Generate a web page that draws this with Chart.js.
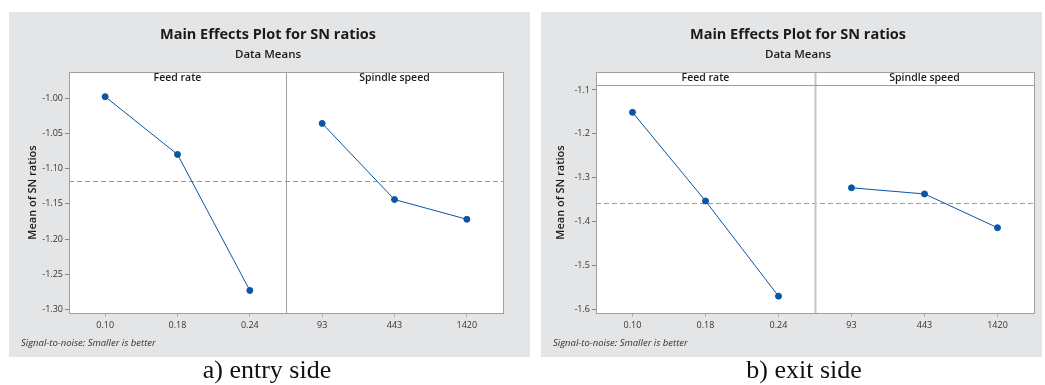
<!DOCTYPE html>
<html>
<head>
<meta charset="utf-8">
<script src="https://cdn.jsdelivr.net/npm/chart.js@4"></script>
<style>
  body { margin: 0; background: #fff; width: 1045px; height: 385px; position: relative; overflow: hidden; }
  .panel { position: absolute; top: 12px; background: #e4e5e7; }
  .caption { position: absolute; top: 355px; font-family: "Liberation Serif", serif; font-size: 26px; color: #111; text-align: center; }
</style>
</head>
<body>
<div class="panel" style="left:9px; width:521px; height:345px;"><canvas id="entryChart" width="521" height="345"></canvas></div>
<div class="panel" style="left:541px; width:501px; height:345px;"><canvas id="exitChart" width="501" height="345"></canvas></div>
<div class="caption" style="left:167px; width:200px;">a) entry side</div>
<div class="caption" style="left:704px; width:200px;">b) exit side</div>
<script>
// factor levels
const feed_levels = ['0.10', '0.18', '0.24'];
const spindle_levels = ['93', '443', '1420'];
const factor_names = ['Feed rate', 'Spindle speed'];

// mean SN ratios per level
const entry_feed = [-0.998, -1.080, -1.273];
const entry_spindle = [-1.036, -1.144, -1.172];
const exit_feed = [-1.151, -1.353, -1.570];
const exit_spindle = [-1.323, -1.337, -1.414];

// y tick labels
const entry_ticks = [-1.30, -1.25, -1.20, -1.15, -1.10, -1.05, -1.00];
const exit_ticks = [-1.6, -1.5, -1.4, -1.3, -1.2, -1.1];

const font_ui = '"Open Sans", "Noto Sans", sans-serif';
const line_blue = '#0a55a5';

// white plot area, frame, facet divider, grand mean, strip labels and notes
const panelDecor = {
    id: 'panelDecor',
    beforeDraw(chart, args, o) {
        const a = chart.chartArea;
        const ctx = chart.ctx;
        ctx.save();
        ctx.fillStyle = '#fff';
        ctx.fillRect(a.left, a.top, a.right - a.left, a.bottom - a.top);
        ctx.restore();
    },
    beforeDatasetsDraw(chart, args, o) {
        const a = chart.chartArea;
        const ctx = chart.ctx;
        const x = chart.scales.x;
        const y = chart.scales.y;
        const all = chart.data.datasets.flatMap(d => d.data.filter(v => v !== null));
        const mean = all.reduce((s, v) => s + v, 0) / all.length;
        const my = Math.round(y.getPixelForValue(mean)) + 0.5;
        ctx.save();
        ctx.strokeStyle = '#9a9a9a';
        ctx.lineWidth = 1;
        ctx.setLineDash([5, 3]);
        ctx.beginPath();
        ctx.moveTo(a.left, my);
        ctx.lineTo(a.right, my);
        ctx.stroke();
        ctx.setLineDash([]);
        // divider between the two factors
        const dx = Math.round((x.getPixelForValue(2) + x.getPixelForValue(3)) / 2) + 0.5;
        ctx.strokeStyle = o.dividerColor;
        ctx.lineWidth = o.dividerWidth;
        ctx.beginPath();
        ctx.moveTo(dx, a.top);
        ctx.lineTo(dx, a.bottom);
        ctx.stroke();
        // strip separator
        if (o.strip) {
            ctx.strokeStyle = '#a0a0a0';
            ctx.lineWidth = 1;
            ctx.beginPath();
            ctx.moveTo(a.left, a.top + 13.5);
            ctx.lineTo(a.right, a.top + 13.5);
            ctx.stroke();
        }
        ctx.restore();
    },
    afterDraw(chart, args, o) {
        const a = chart.chartArea;
        const ctx = chart.ctx;
        const x = chart.scales.x;
        ctx.save();
        ctx.strokeStyle = '#a0a0a0';
        ctx.lineWidth = 1;
        ctx.strokeRect(Math.round(a.left) + 0.5, Math.round(a.top) + 0.5, Math.round(a.right - a.left), Math.round(a.bottom - a.top));

        ctx.fillStyle = '#1a1a1a';
        ctx.textAlign = 'center';
        ctx.textBaseline = 'middle';
        ctx.font = 'bold 14.5px ' + font_ui;
        ctx.fillText('Main Effects Plot for SN ratios', o.titleX, 23);
        ctx.font = '600 11.5px ' + font_ui;
        ctx.fillText('Data Means', o.titleX, 43);

        // factor names over each facet
        ctx.font = '600 10.5px ' + font_ui;
        const c1 = (x.getPixelForValue(0) + x.getPixelForValue(2)) / 2;
        const c2 = (x.getPixelForValue(3) + x.getPixelForValue(5)) / 2;
        ctx.fillText(factor_names[0], c1, a.top + 6.5);
        ctx.fillText(factor_names[1], c2, a.top + 6.5);

        // y axis title
        ctx.save();
        ctx.translate(o.yTitleX, (a.top + a.bottom) / 2);
        ctx.rotate(-Math.PI / 2);
        ctx.font = '600 11px ' + font_ui;
        ctx.fillText('Mean of SN ratios', 0, 0);
        ctx.restore();

        ctx.textAlign = 'left';
        ctx.fillStyle = '#333';
        ctx.font = 'italic 9.5px ' + font_ui;
        ctx.fillText('Signal-to-noise: Smaller is better', 12, 331);
        ctx.restore();
    }
};

function make_chart(id, feed, spindle, ticks, decimals, yMin, yMax, yWidth, padRight, decor) {
    const labels = feed_levels.concat(spindle_levels);
    return new Chart(document.getElementById(id), {
        type: 'line',
        data: {
            labels: labels,
            datasets: [{
                label: factor_names[0],
                data: feed.concat([null, null, null]),
                borderColor: line_blue,
                backgroundColor: line_blue,
                borderWidth: 1,
                pointRadius: 3,
                spanGaps: false
            }, {
                label: factor_names[1],
                data: [null, null, null].concat(spindle),
                borderColor: line_blue,
                backgroundColor: line_blue,
                borderWidth: 1,
                pointRadius: 3,
                spanGaps: false
            }]
        },
        options: {
            responsive: false,
            animation: false,
            layout: { padding: { top: 60, right: padRight, left: 0, bottom: 0 } },
            plugins: {
                legend: { display: false },
                tooltip: { enabled: false },
                panelDecor: decor
            },
            scales: {
                x: {
                    type: 'category',
                    offset: true,
                    grid: { offset: false, drawOnChartArea: false, tickLength: 4, color: '#b0b0b0' },
                    border: { display: false },
                    ticks: { color: '#333', font: { family: font_ui, size: 9 }, padding: 3, maxRotation: 0 },
                    afterFit: s => { s.height = 44; }
                },
                y: {
                    min: yMin,
                    max: yMax,
                    grid: { drawOnChartArea: false, tickLength: 4, color: '#888' },
                    border: { display: false },
                    afterBuildTicks: s => { s.ticks = ticks.map(v => ({ value: v })); },
                    ticks: {
                        color: '#333',
                        font: { family: font_ui, size: 9 },
                        padding: 2,
                        callback: v => v.toFixed(decimals)
                    },
                    afterFit: s => { s.width = yWidth; }
                }
            }
        },
        plugins: [panelDecor]
    });
}

make_chart('entryChart', entry_feed, entry_spindle, entry_ticks, 2, -1.305, -0.963, 60, 27,
    { titleX: 259, yTitleX: 24, dividerColor: '#a0a0a0', dividerWidth: 1, strip: false });
make_chart('exitChart', exit_feed, exit_spindle, exit_ticks, 1, -1.6084, -1.059, 55, 8,
    { titleX: 257, yTitleX: 20, dividerColor: '#c4c4c4', dividerWidth: 2, strip: true });
</script>
</body>
</html>
